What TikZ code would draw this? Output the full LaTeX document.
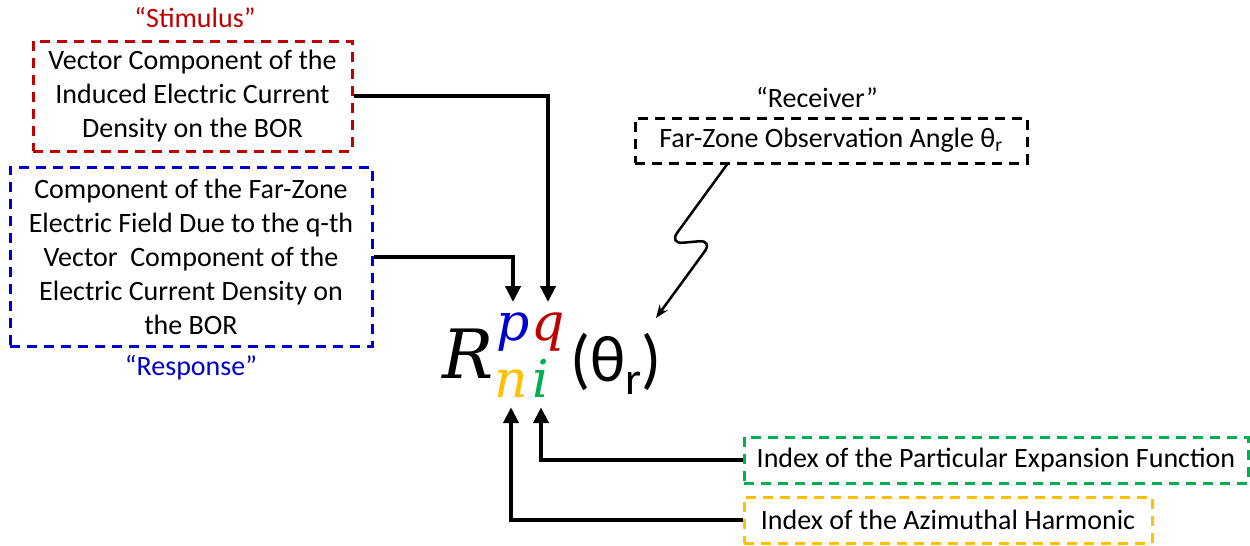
\documentclass[tikz,border=0pt]{standalone}
\usepackage{fontspec}
\setmainfont{Carlito}
\newfontfamily\symbfont{DejaVu Serif}
\usepackage{xcolor}
\usetikzlibrary{arrows.meta,positioning,calc}
\definecolor{stimred}{RGB}{192,0,0}
\definecolor{respblue}{RGB}{0,0,204}
\definecolor{idxgreen}{RGB}{0,176,80}
\definecolor{idxyellow}{RGB}{255,192,0}

\begin{document}
\begin{tikzpicture}[
  x=1pt, y=-1pt,
  box/.style={draw, line width=3pt, dash pattern=on 10pt off 7pt, align=center, inner sep=0pt, font=\fontsize{28}{34}\selectfont},
  tag/.style={font=\fontsize{28}{34}\selectfont},
  sym/.style={inner sep=0pt, anchor=base, font=\symbfont\itshape\fontsize{52}{52}\selectfont},
  conn/.style={draw, line width=4pt, -{Triangle[length=16pt,width=15pt]}},
]
\useasboundingbox (0,0) rectangle (1250,546);

\node[tag, text=stimred] (stimtag) at (195,18) {“Stimulus”};
\node[box, draw=stimred, minimum width=319pt, minimum height=110pt] (stim) at (192.5,96)
  {Vector Component of the\\Induced Electric Current\\Density on the BOR};
\node[box, draw=respblue, minimum width=362pt, minimum height=179pt] (resp) at (191,256.5)
  {Component of the Far-Zone\\Electric Field Due to the q-th\\Vector\ \ Component of the\\Electric Current Density on\\the BOR};
\node[tag, text=respblue] (resptag) at (191,368) {“Response”};
\node[tag] (recvtag) at (817,97) {“Receiver”};
\node[box, draw=black, minimum width=392pt, minimum height=45pt] (recv) at (831,140.5)
  {Far-Zone Observation Angle θ\textsubscript{r}};
\node[box, draw=idxgreen, minimum width=504pt, minimum height=46pt] (expn) at (996,460)
  {Index of the Particular Expansion Function};
\node[box, draw=idxyellow, minimum width=408pt, minimum height=46pt] (azim) at (948,520)
  {Index of the Azimuthal Harmonic};

\node[sym, font=\symbfont\itshape\fontsize{68}{68}\selectfont] (R) at (468,378) {R};
\node[sym, text=respblue] (p) at (513,340) {p};
\node[sym, text=stimred] (q) at (548,340) {q};
\node[sym, text=idxyellow] (n) at (511,397) {n};
\node[sym, text=idxgreen] (i) at (541,397) {i};
\node[anchor=base west, inner sep=0pt, font=\fontsize{66}{66}\selectfont] (angle) at (570,381) {(θ\textsubscript{r})};

\draw[conn] (stim.east) -| ([yshift=10pt]q.north);
\draw[conn] (resp.east) -| ([yshift=10pt]p.north);
\draw[conn] (expn.west) -| ([yshift=-10pt]i.south);
\draw[conn] (azim.west) -| ([yshift=-10pt]n.south);

\coordinate (tip) at (656,318);
\draw[line width=2.5pt, rounded corners=14pt, -{Stealth[length=13pt,width=10pt]}]
  ([xshift=-104pt]recv.south) -- (669,244) -- (713,240) -- (tip);
\end{tikzpicture}
\end{document}
